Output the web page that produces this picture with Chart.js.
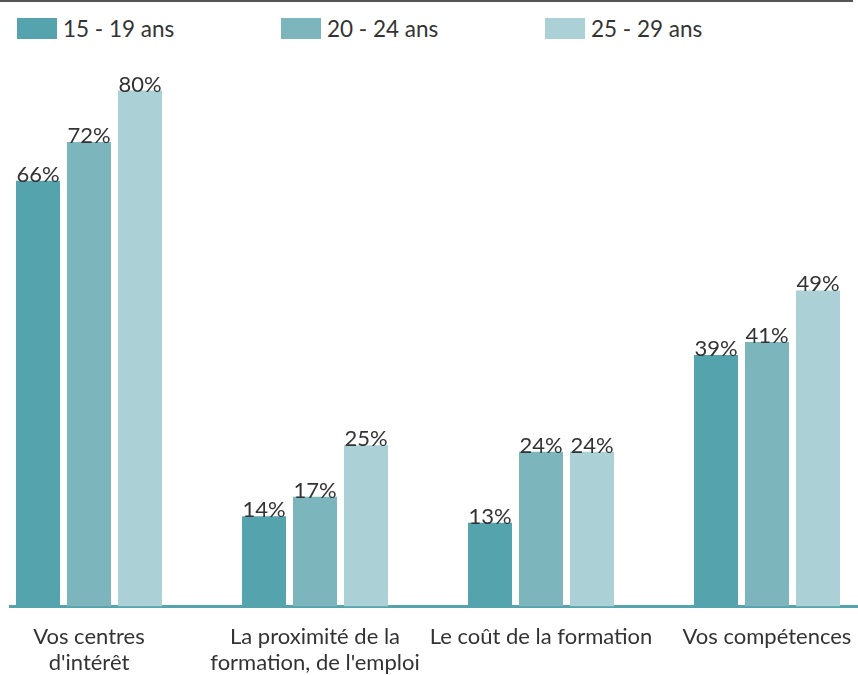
<!DOCTYPE html>
<html>
<head>
<meta charset="utf-8">
<script src="https://cdn.jsdelivr.net/npm/chart.js@4/dist/chart.umd.min.js"></script>
<style>
  html, body { margin: 0; padding: 0; background: #fff; width: 858px; height: 675px; overflow: hidden; }
  #topline { position: absolute; left: 0; top: 0; width: 853px; height: 2px; background: #555; }
  #legend { position: absolute; left: 17px; top: 14px; display: flex; font-family: Lato, sans-serif; font-size: 22.5px; color: #333; font-weight: 400; }
  .item { width: 264px; display: flex; align-items: center; height: 28px; }
  .box { width: 40px; height: 21px; margin-right: 6px; }
  #wrap { position: absolute; left: 9px; top: 0; width: 849px; height: 675px; overflow: hidden; }
  #c { position: absolute; left: -33px; top: 0; }
</style>
</head>
<body>
<div id="topline"></div>
<div id="legend"></div>
<div id="wrap"><canvas id="c" width="904" height="675"></canvas></div>
<script>
const categories = [["Vos centres", "d'intérêt"], ["La proximité de la", "formation, de l'emploi"], "Le coût de la formation", "Vos compétences"];
const seriesNames = ["15 - 19 ans", "20 - 24 ans", "25 - 29 ans"];
const ages15_19 = [66, 14, 13, 39];
const ages20_24 = [72, 17, 24, 41];
const ages25_29 = [80, 25, 24, 49];
const colors = ["#55a3ac", "#7db5bd", "#abd0d6"];

const FONT = "Lato, sans-serif";

const valueLabels = {
  id: 'valueLabels',
  afterDatasetsDraw(chart) {
    const ctx = chart.ctx;
    ctx.save();
    ctx.font = "22px " + FONT;
    ctx.fillStyle = "#333";
    ctx.textAlign = "center";
    ctx.textBaseline = "alphabetic";
    chart.data.datasets.forEach((ds, i) => {
      const meta = chart.getDatasetMeta(i);
      meta.data.forEach((bar, j) => {
        ctx.fillText(ds.data[j] + "%", bar.x, bar.y + 1);
      });
    });
    ctx.restore();
  }
};

const chart = new Chart(document.getElementById('c'), {
  type: 'bar',
  data: {
    labels: categories,
    datasets: [
      { label: seriesNames[0], data: ages15_19, backgroundColor: colors[0] },
      { label: seriesNames[1], data: ages20_24, backgroundColor: colors[1] },
      { label: seriesNames[2], data: ages25_29, backgroundColor: colors[2] }
    ]
  },
  options: {
    responsive: false,
    devicePixelRatio: 1,
    animation: false,
    layout: { padding: { top: 26, left: 0, right: 0, bottom: 0 } },
    datasets: { bar: { categoryPercentage: 0.677, barPercentage: 0.863 } },
    plugins: { legend: { display: false }, tooltip: { enabled: false } },
    scales: {
      x: {
        grid: { display: false, drawTicks: false },
        border: { display: true, color: "#55a3ac", width: 3 },
        ticks: { color: "#333", font: { family: FONT, size: 22 }, padding: 17, maxRotation: 0, autoSkip: false },
        afterFit(scale) { scale.height = 68.5; }
      },
      y: { display: false, min: 0, max: 90 }
    }
  },
  plugins: [valueLabels]
});

const legend = document.getElementById('legend');
chart.data.datasets.forEach(ds => {
  const it = document.createElement('div');
  it.className = 'item';
  const b = document.createElement('div');
  b.className = 'box';
  b.style.background = ds.backgroundColor;
  const t = document.createElement('span');
  t.textContent = ds.label;
  it.appendChild(b); it.appendChild(t);
  legend.appendChild(it);
});
</script>
</body>
</html>
